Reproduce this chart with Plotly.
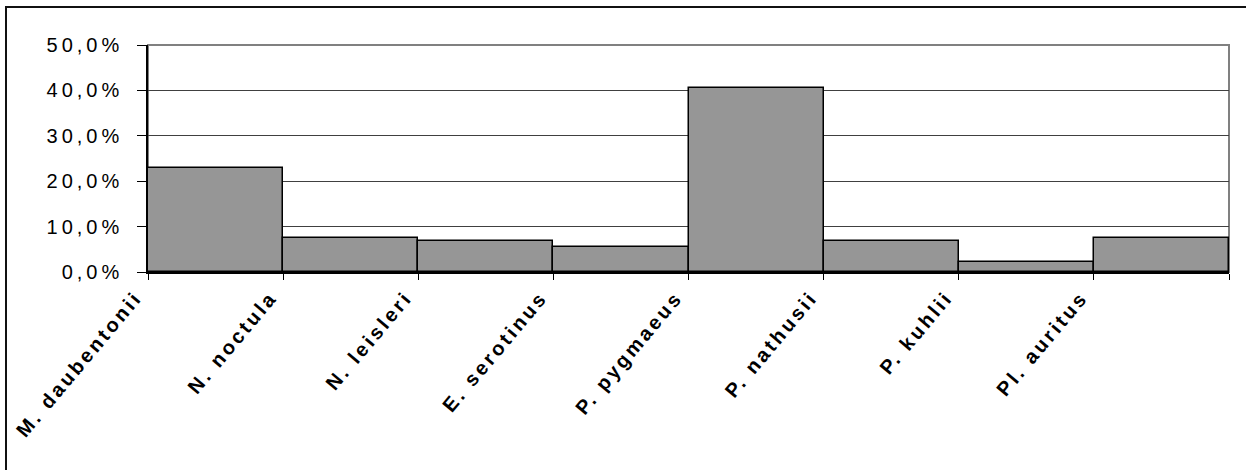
import plotly.graph_objects as go

species = ["M. daubentonii", "N. noctula", "N. leisleri", "E. serotinus",
           "P. pygmaeus", "P. nathusii", "P. kuhlii", "Pl. auritus"]
share_pct = [23.0, 7.5, 6.8, 5.6, 40.6, 6.8, 2.2, 7.5]
y_ticks_pct = [0, 10, 20, 30, 40, 50]

share_frac = [v / 100 for v in share_pct]
y_ticks = [v / 100 for v in y_ticks_pct]

fig = go.Figure()
fig.add_trace(go.Bar(
    x=species, y=share_frac, width=1.0,
    marker=dict(color="#969696", line=dict(color="#000000", width=1.5)),
    showlegend=False,
))

W, H = 1246, 470
L, R, T, B = 148, 17, 45, 198
pw, ph = W - L - R, H - T - B

def px_x(px):
    return (px - L) / pw

def px_y(py):
    return (H - B - py) / ph

fig.update_layout(
    width=W, height=H,
    margin=dict(l=L, r=R, t=T, b=B, pad=0, autoexpand=False),
    paper_bgcolor="white", plot_bgcolor="white",
    bargap=0,
    separators=",.",
    font=dict(family="Liberation Sans, Arial, sans-serif", color="#000000"),
    shapes=[
        dict(type="rect", xref="paper", yref="paper", x0=0, x1=1, y0=0, y1=1,
             line=dict(color="#808080", width=2), layer="below"),
        dict(type="rect", xref="paper", yref="paper",
             x0=px_x(6), x1=px_x(1262), y0=px_y(485), y1=px_y(7),
             line=dict(color="#111111", width=2), fillcolor="rgba(0,0,0,0)"),
    ],
)

fig.update_yaxes(
    range=[0, 0.5], tickvals=y_ticks, tickformat=".1%",
    showgrid=True, gridcolor="#404040", gridwidth=1,
    showline=True, linecolor="#000000", linewidth=1.5,
    ticks="outside", ticklen=9, tickcolor="#000000", tickwidth=1,
    tickfont=dict(size=20, color="#000000"),
    ticklabelstandoff=10, zeroline=False, automargin=False,
)
fig.update_xaxes(
    showline=True, linecolor="#000000", linewidth=1.5,
    ticks="outside", ticklen=6, tickcolor="#000000", tickwidth=1,
    tickson="boundaries", tickangle=-50,
    tickfont=dict(size=20, color="#000000", weight="bold"),
    ticklabelshift=-80, ticklabelstandoff=4,
    showgrid=False, range=[-0.5, 7.5], automargin=False,
)

post = """
document.body.style.margin='0';
document.querySelectorAll('.xtick text').forEach(function(t){t.style.letterSpacing='3px';t.style.fontWeight='bold';});
document.querySelectorAll('.ytick text').forEach(function(t){t.style.letterSpacing='4px';});
"""

fig.write_html("out.html", post_script=post, config={"displayModeBar": False})
